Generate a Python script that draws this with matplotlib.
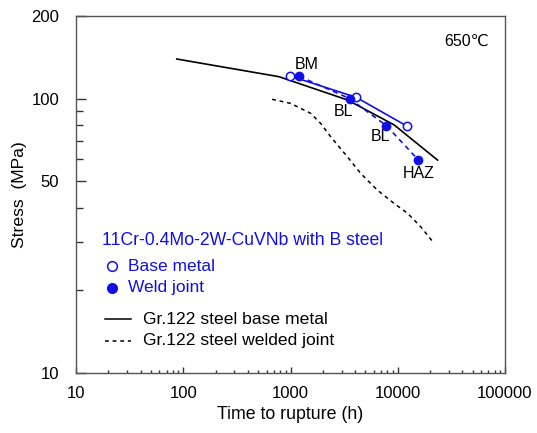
import matplotlib
matplotlib.use('Agg')
import matplotlib.pyplot as plt
from matplotlib.ticker import FixedLocator, NullFormatter

plt.rcParams['font.family'] = ['Liberation Sans', 'DejaVu Sans']
plt.rcParams['font.size'] = 12

BLUE = '#1010e6'

# 11Cr-0.4Mo-2W-CuVNb with B steel, 650 C
bm_time = [990, 4110, 12100]
bm_stress = [121, 101, 79.5]
wj_time = [1210, 3560, 7830, 15600]
wj_stress = [120.5, 100, 79.7, 59.7]

# Gr.122 reference curves
gr_bm_time = [87, 780, 3390, 9250, 23500]
gr_bm_stress = [139.4, 120.2, 98.9, 80.2, 59.7]
gr_wj_time = [674, 1000, 1540, 1905, 2370, 3390, 4510, 6450, 9250, 12330,
              16400, 21800]
gr_wj_stress = [99.4, 96.1, 88.4, 81.3, 72.6, 61.4, 53.4, 46.4, 41.5, 38.2,
                34.1, 29.7]

# fracture location labels
loc_text = ['BM', 'BL', 'BL', 'HAZ']
loc_time = [1410, 3110, 6930, 15800]
loc_stress = [132.6, 90.1, 72.6, 53.4]

fig = plt.figure(figsize=(5.37, 4.33), dpi=100)
ax = fig.add_axes([76 / 537, 1 - 373 / 433, 429 / 537, 357 / 433])
ax.set_xscale('log')
ax.set_yscale('log')
ax.set_xlim(10, 100000)
ax.set_ylim(10, 200)

ax.plot(gr_bm_time, gr_bm_stress, color='black', lw=1.2)
ax.plot(gr_wj_time, gr_wj_stress, color='black', lw=1.1, dashes=(2.5, 2.5))
ax.plot(bm_time, bm_stress, color=BLUE, lw=1.2, marker='o', ms=6,
        mfc='white', mec=BLUE, mew=1.1, zorder=4)
ax.plot(wj_time, wj_stress, color=BLUE, lw=1.2, dashes=(3, 2.5), marker='o',
        ms=6, mfc=BLUE, mec=BLUE, zorder=5)

for txt, t, s in zip(loc_text, loc_time, loc_stress):
    ax.text(t, s, txt, ha='center', va='center', fontsize=11.5)

ax.text(0.91, 0.928, '650\u2103', transform=ax.transAxes, ha='center',
        va='center', fontsize=11.5)

# legend drawn by hand
tr = ax.transAxes
ax.text(0.0597, 0.3725, '11Cr-0.4Mo-2W-CuVNb with B steel', transform=tr,
        color=BLUE, ha='left', va='center', fontsize=12.7)
ax.plot([0.0839], [0.2997], transform=tr, marker='o', ms=7, mfc='white',
        mec=BLUE, mew=1.1, ls='none', clip_on=False)
ax.text(0.1212, 0.2997, 'Base metal', transform=tr, color=BLUE,
        ha='left', va='center', fontsize=12.5)
ax.plot([0.0839], [0.239], transform=tr, marker='o', ms=7, mfc=BLUE,
        mec=BLUE, ls='none', clip_on=False)
ax.text(0.1212, 0.239, 'Weld joint', transform=tr, color=BLUE,
        ha='left', va='center', fontsize=12.5)
ax.plot([0.0676, 0.1275], [0.1504, 0.1504], transform=tr, color='black', lw=1.1)
ax.text(0.157, 0.1504, 'Gr.122 steel base metal', transform=tr,
        ha='left', va='center', fontsize=12.6)
ax.plot([0.0676, 0.1275], [0.0905, 0.0905], transform=tr, color='black',
        lw=1.1, dashes=(2.5, 2.5))
ax.text(0.157, 0.0905, 'Gr.122 steel welded joint', transform=tr,
        ha='left', va='center', fontsize=12.6)

ax.yaxis.set_major_locator(FixedLocator([10, 50, 100, 200]))
ax.yaxis.set_minor_locator(FixedLocator([20, 30, 40, 60, 70, 80, 90]))
ax.yaxis.set_minor_formatter(NullFormatter())
ax.set_yticklabels(['10', '50', '100', '200'])
ax.xaxis.set_major_locator(FixedLocator([10, 100, 1000, 10000, 100000]))
ax.xaxis.set_minor_locator(FixedLocator(
    [m * 10 ** d for d in range(1, 5) for m in range(2, 10)]))
ax.xaxis.set_minor_formatter(NullFormatter())
ax.set_xticklabels(['10', '100', '1000', '10000', '100000'])

ax.tick_params(axis='y', which='major', direction='in', length=7, width=1,
               pad=12, labelsize=12, colors='#333333', labelcolor='black')
ax.tick_params(axis='y', which='minor', direction='in', length=5, width=1,
               colors='#333333')
ax.tick_params(axis='x', which='major', direction='in', length=4, width=1,
               pad=9, labelsize=12, colors='#333333', labelcolor='black')
ax.tick_params(axis='x', which='minor', direction='in', length=2.5, width=1,
               colors='#333333')
for sp in ax.spines.values():
    sp.set_color('#555555')
    sp.set_linewidth(1)

ax.set_xlabel('Time to rupture (h)', fontsize=12.8, labelpad=4)
ax.set_ylabel('Stress  (MPa)', fontsize=12.6, labelpad=3)

fig.savefig('out.png', dpi=100)
